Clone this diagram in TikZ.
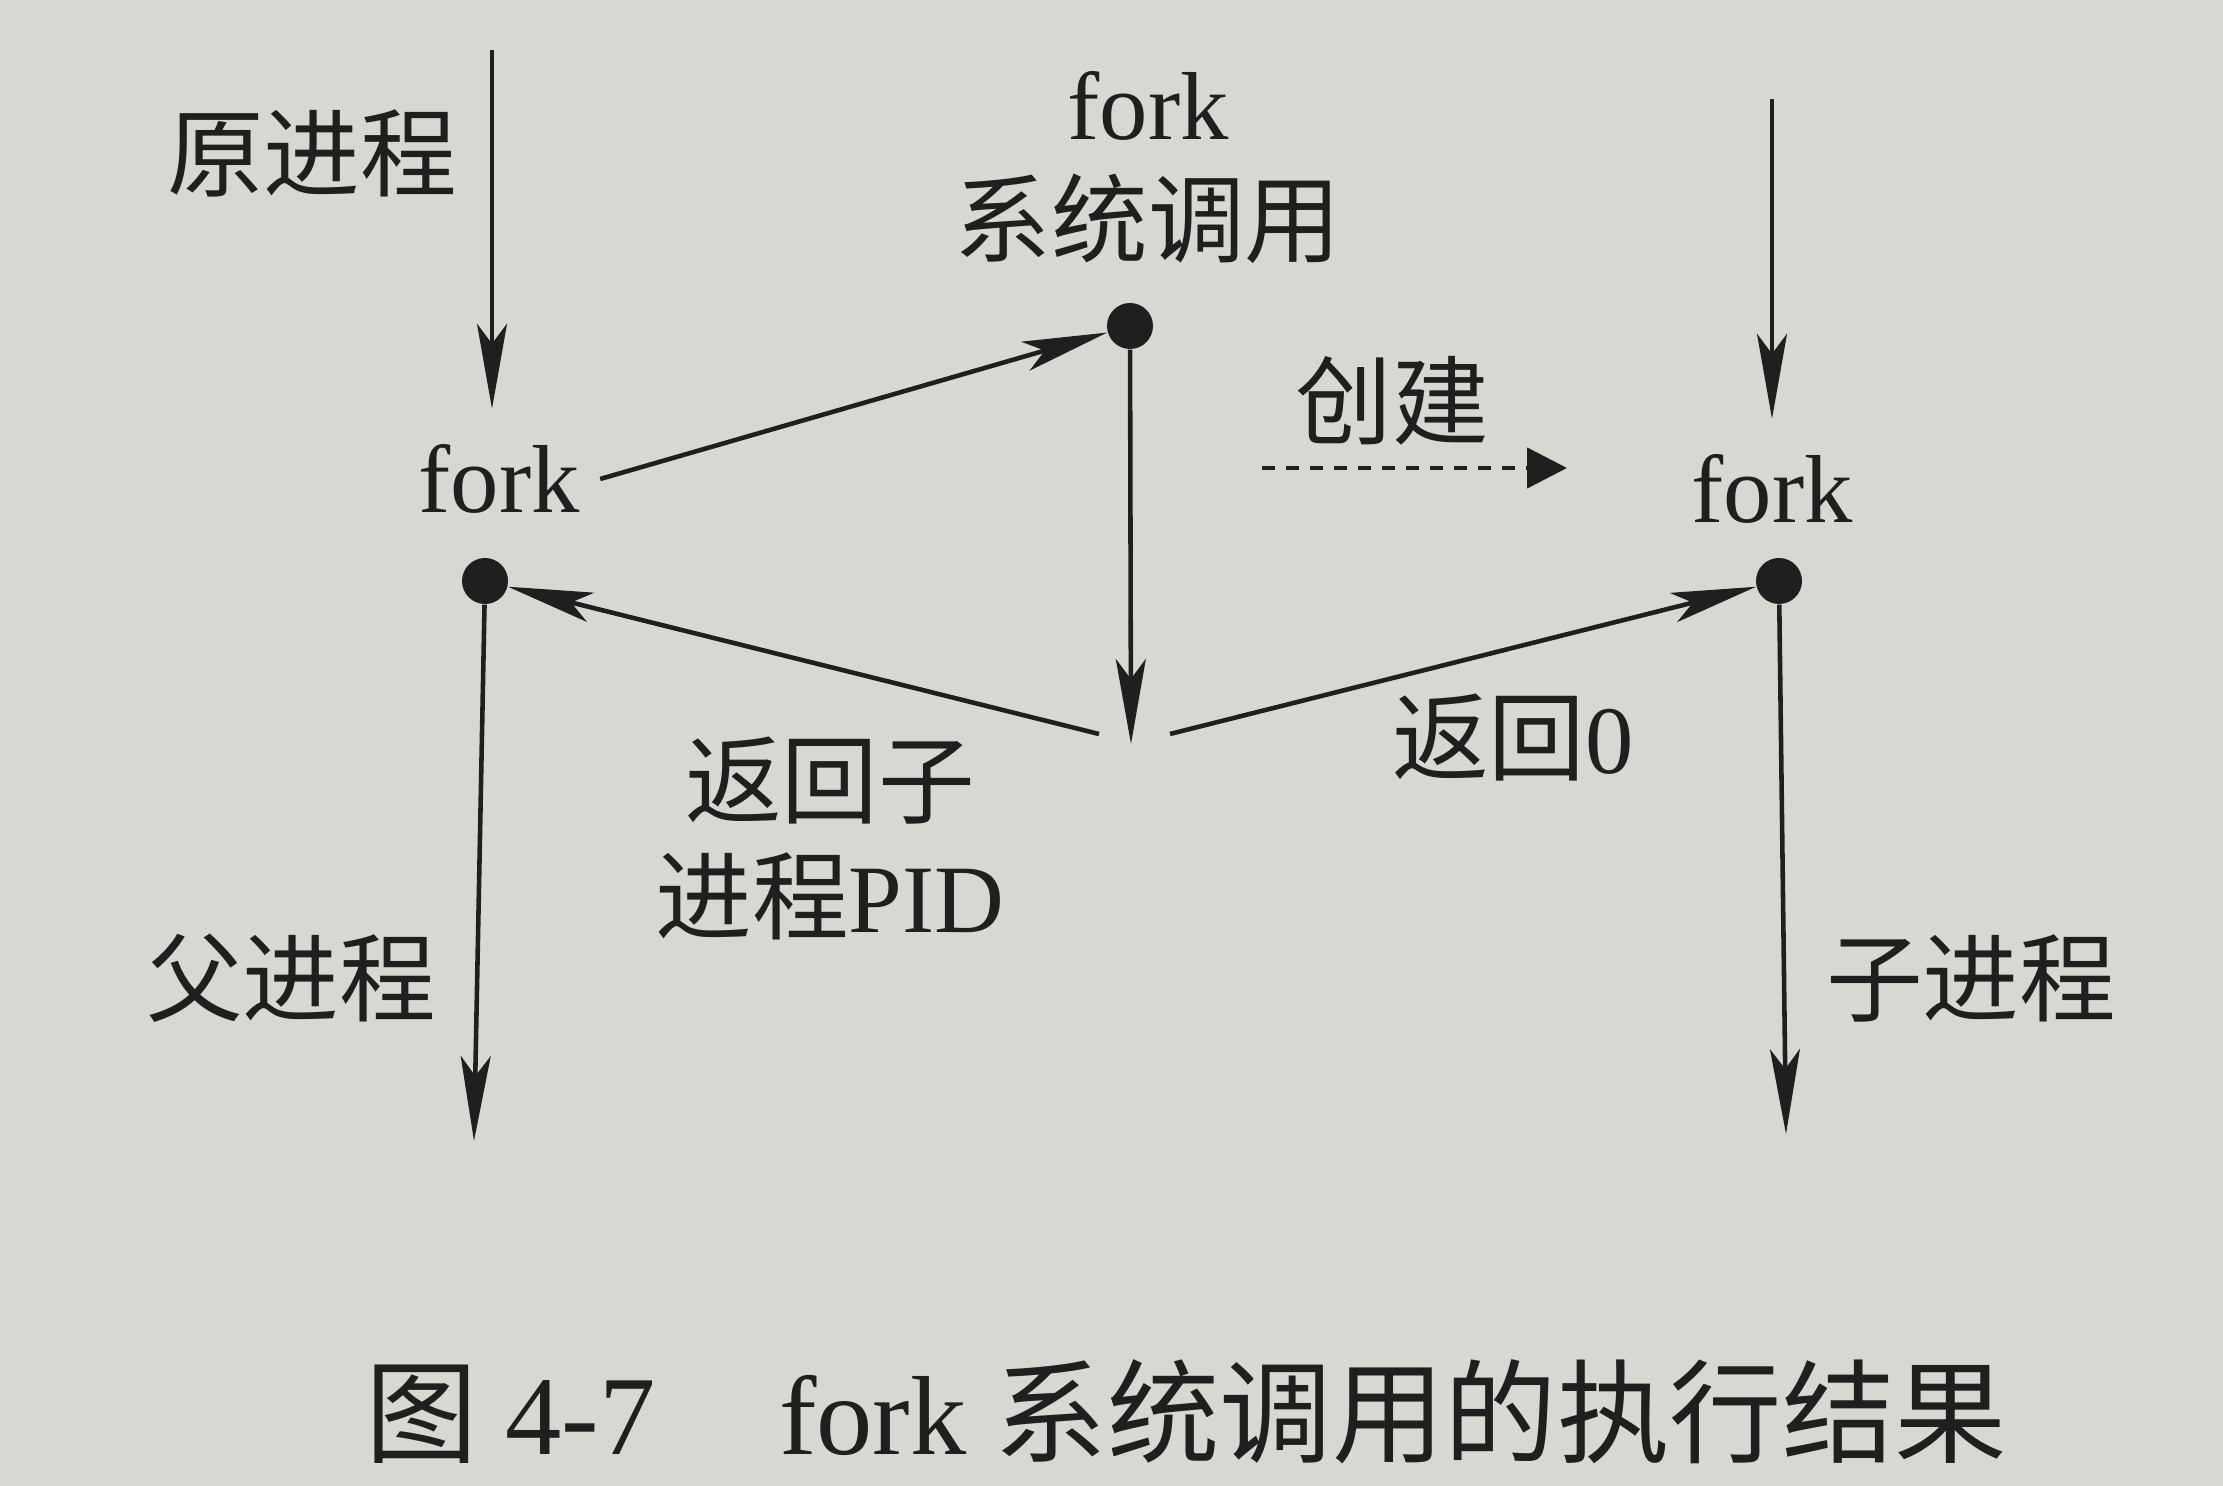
\documentclass[tikz,border=0pt]{standalone}
\usepackage{fontspec}
\setmainfont{Liberation Serif}
\newfontfamily\cjk{Noto Sans CJK SC}
\usetikzlibrary{arrows.meta}
\definecolor{paper}{HTML}{D8D8D3}
\definecolor{ink}{HTML}{1F1F1F}

\begin{document}
\begin{tikzpicture}[x=0.1mm, y=-0.1mm,
    lbl/.style={font=\fontsize{27.5}{33}\selectfont, text=ink, inner sep=0pt, align=center},
    callname/.style={lbl, inner xsep=2mm, inner ysep=3.5mm},
    pt/.style={circle, fill=ink, minimum size=4.6mm, inner sep=0pt},
    flow/.style={-{Stealth[length=8.5mm, width=3mm, inset=2mm]}, ink, line width=1.3pt},
    spawn/.style={-{Triangle[length=4mm, width=4mm]}, ink, line width=1.3pt,
                  dash pattern=on 1.3mm off 1.1mm}]
  \fill[paper] (0,0) rectangle (2223,1486);
  % ---- parent process: fork, then return with child PID ----
  \node[lbl] (origlbl) at (312,153) {\cjk 原进程};
  \coordinate (ptop) at (492,50);
  \node[callname] (lfork) at (499,479) {fork};
  \node[pt] (ldot) at (485,581) {};
  \coordinate (lbot) at (474,1141);
  \node[lbl] (parentlbl) at (291,978) {\cjk 父进程};
  \draw[flow] (ptop) -- (ptop |- lfork.north);
  \draw[flow] (ldot) -- (lbot);
  % ---- child process: created, returns 0 ----
  \coordinate (dashA) at (1262,468);
  \coordinate (dashB) at (1567,468);
  \draw[spawn] (dashA) -- (dashB);
  \node[lbl] (newlbl) at (1392,401) {\cjk 创建};
  \coordinate (rtop) at (1772,99);
  \node[callname] (rfork) at (1772,489) {fork};
  \node[pt] (rdot) at (1779,581) {};
  \coordinate (rbot) at (1786,1134);
  \node[lbl] (childlbl) at (1971,978) {\cjk 子进程};
  \draw[flow] (rtop) -- (rtop |- rfork.north);
  \draw[flow] (rdot) -- (rbot);
  % ---- the system call in the kernel ----
  \node[lbl] (calllbl) at (1148,168) {fork\\{\cjk 系统调用}};
  \node[pt] (mdot) at (1130,326) {};
  \coordinate (mbot) at (1131,744);
  \coordinate (mleft) at (1099,734);
  \coordinate (mright) at (1170,734);
  \draw[flow] (lfork.east) -- (mdot);
  \draw[flow] (mdot) -- (mbot);
  \draw[flow] (mleft) -- (ldot);
  \draw[flow] (mright) -- (rdot);
  \node[lbl] (pidlbl) at (830,838) {{\cjk 返回子}\\{\cjk 进程}PID};
  \node[lbl] (zerolbl) at (1513,737) {{\cjk 返回}0};
  % ---- caption ----
  \node[font=\fontsize{32}{38}\selectfont, text=ink, inner sep=0pt] (caption) at (1186,1412)
       {{\cjk 图}~4-7\hspace{1.1em}fork~{\cjk 系统调用的执行结果}};
\end{tikzpicture}
\end{document}
